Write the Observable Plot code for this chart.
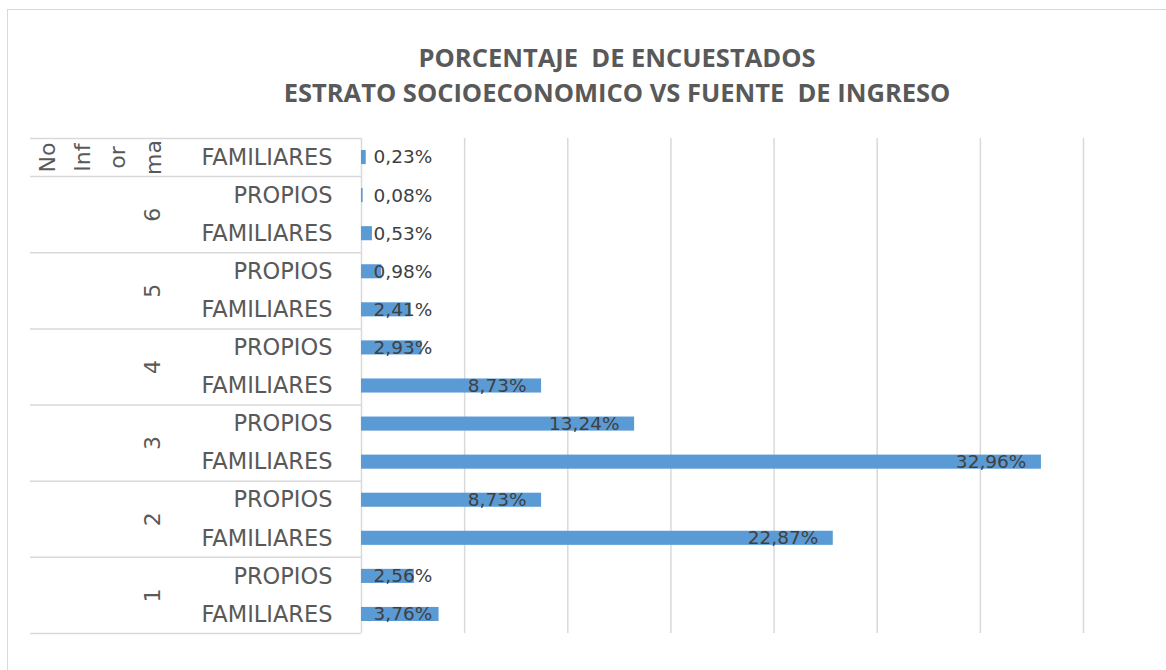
<!DOCTYPE html>
<html>
<head>
<meta charset="utf-8">
<script src="https://cdn.jsdelivr.net/npm/d3@7"></script>
<script src="https://cdn.jsdelivr.net/npm/@observablehq/plot@0.6"></script>
<style>
  html, body { margin: 0; padding: 0; background: #fff; }
  body { width: 1166px; height: 670px; overflow: hidden; position: relative; }
  #frame { position: absolute; left: 7px; top: 9px; width: 1400px; height: 900px; border: 1.5px solid #d9d9d9; box-sizing: border-box; pointer-events: none; }
  #title { position: relative; width: 1234px; height: 120px; padding-top: 40px; box-sizing: border-box; text-align: center;
           font-family: "Open Sans", sans-serif; font-weight: 700; font-size: 25.5px; line-height: 35px; color: #595959; }
  #chart { position: relative; }
</style>
</head>
<body>
<div id="frame"></div>
<div id="title">PORCENTAJE&nbsp; DE ENCUESTADOS<br>ESTRATO SOCIOECONOMICO VS FUENTE&nbsp; DE INGRESO</div>
<div id="chart"></div>
<script>
// ---- data (top to bottom as in the chart) ----
const estrato = ["No Informa", "6", "6", "5", "5", "4", "4", "3", "3", "2", "2", "1", "1"];
const fuente = ["FAMILIARES", "PROPIOS", "FAMILIARES", "PROPIOS", "FAMILIARES", "PROPIOS", "FAMILIARES",
                "PROPIOS", "FAMILIARES", "PROPIOS", "FAMILIARES", "PROPIOS", "FAMILIARES"];
const porcentaje = [0.23, 0.08, 0.53, 0.98, 2.41, 2.93, 8.73, 13.24, 32.96, 8.73, 22.87, 2.56, 3.76];
const gridTicks = [5, 10, 15, 20, 25, 30, 35];
const xMax = 35;
const noInformaLines = "No\nInf\nor\nma";

const data = estrato.map((e, i) => ({estrato: e, fuente: fuente[i], v: porcentaje[i], i}));
const fmt = d => d.v.toFixed(2).replace(".", ",") + "%";

// groups
const groupNames = Array.from(new Set(estrato));
const groups = groupNames.map(g => {
  const idx = data.filter(d => d.estrato === g).map(d => d.i);
  return {label: g, first: d3.min(idx), mid: (d3.min(idx) + d3.max(idx) + 1) / 2};
});
const boundaries = groups.map(g => g.first).concat([data.length]);

const W = 1166, H = 550, mL = 361, mR = 83, mT = 18, mB = 37;
const plotW = W - mL - mR;
const pxPerUnit = plotW / xMax;
const isInside = d => d.v * pxPerUnit - 15 - fmt(d).length * 12 > 12;

const chart = Plot.plot({
  width: W,
  height: H,
  marginLeft: mL,
  marginRight: mR,
  marginTop: mT,
  marginBottom: mB,
  style: {fontFamily: "DejaVu Sans, sans-serif", background: "transparent"},
  x: {domain: [0, xMax], axis: null},
  y: {domain: [0, data.length], reverse: true, axis: null},
  marks: [
    Plot.ruleX(gridTicks, {stroke: "#d9d9d9", strokeWidth: 1.5}),
    Plot.ruleY(boundaries, {stroke: "#d9d9d9", strokeWidth: 1.5, insetLeft: -(mL - 30), insetRight: plotW}),
    Plot.ruleX([0], {stroke: "#d9d9d9", strokeWidth: 1.5}),
    Plot.rectX(data, {x1: 0, x2: "v", y1: d => d.i + 0.315, y2: d => d.i + 0.685, fill: "#5b9bd5"}),
    Plot.text(data.filter(d => !isInside(d)), {x: 0, y: d => d.i + 0.5, text: fmt, dx: 12, textAnchor: "start", fontSize: 18.5, fill: "#404040"}),
    Plot.text(data.filter(isInside), {x: "v", y: d => d.i + 0.5, text: fmt, dx: -15, textAnchor: "end", fontSize: 18.5, fill: "#404040"}),
    Plot.text(data, {y: d => d.i + 0.5, text: "fuente", frameAnchor: "left", dx: -29, textAnchor: "end", fontSize: 22.5, fill: "#595959"}),
    Plot.text(groups.filter(g => g.label !== "No Informa"), {y: "mid", text: "label", frameAnchor: "left", dx: -209, rotate: -90, textAnchor: "middle", fontSize: 22, fill: "#595959"}),
    Plot.text(groups.filter(g => g.label === "No Informa"), {y: "mid", text: () => noInformaLines, frameAnchor: "left", dx: -265, rotate: -90, textAnchor: "middle", lineHeight: 1.6, fontSize: 22, fill: "#595959"})
  ]
});
document.getElementById("chart").appendChild(chart);
</script>
</body>
</html>
